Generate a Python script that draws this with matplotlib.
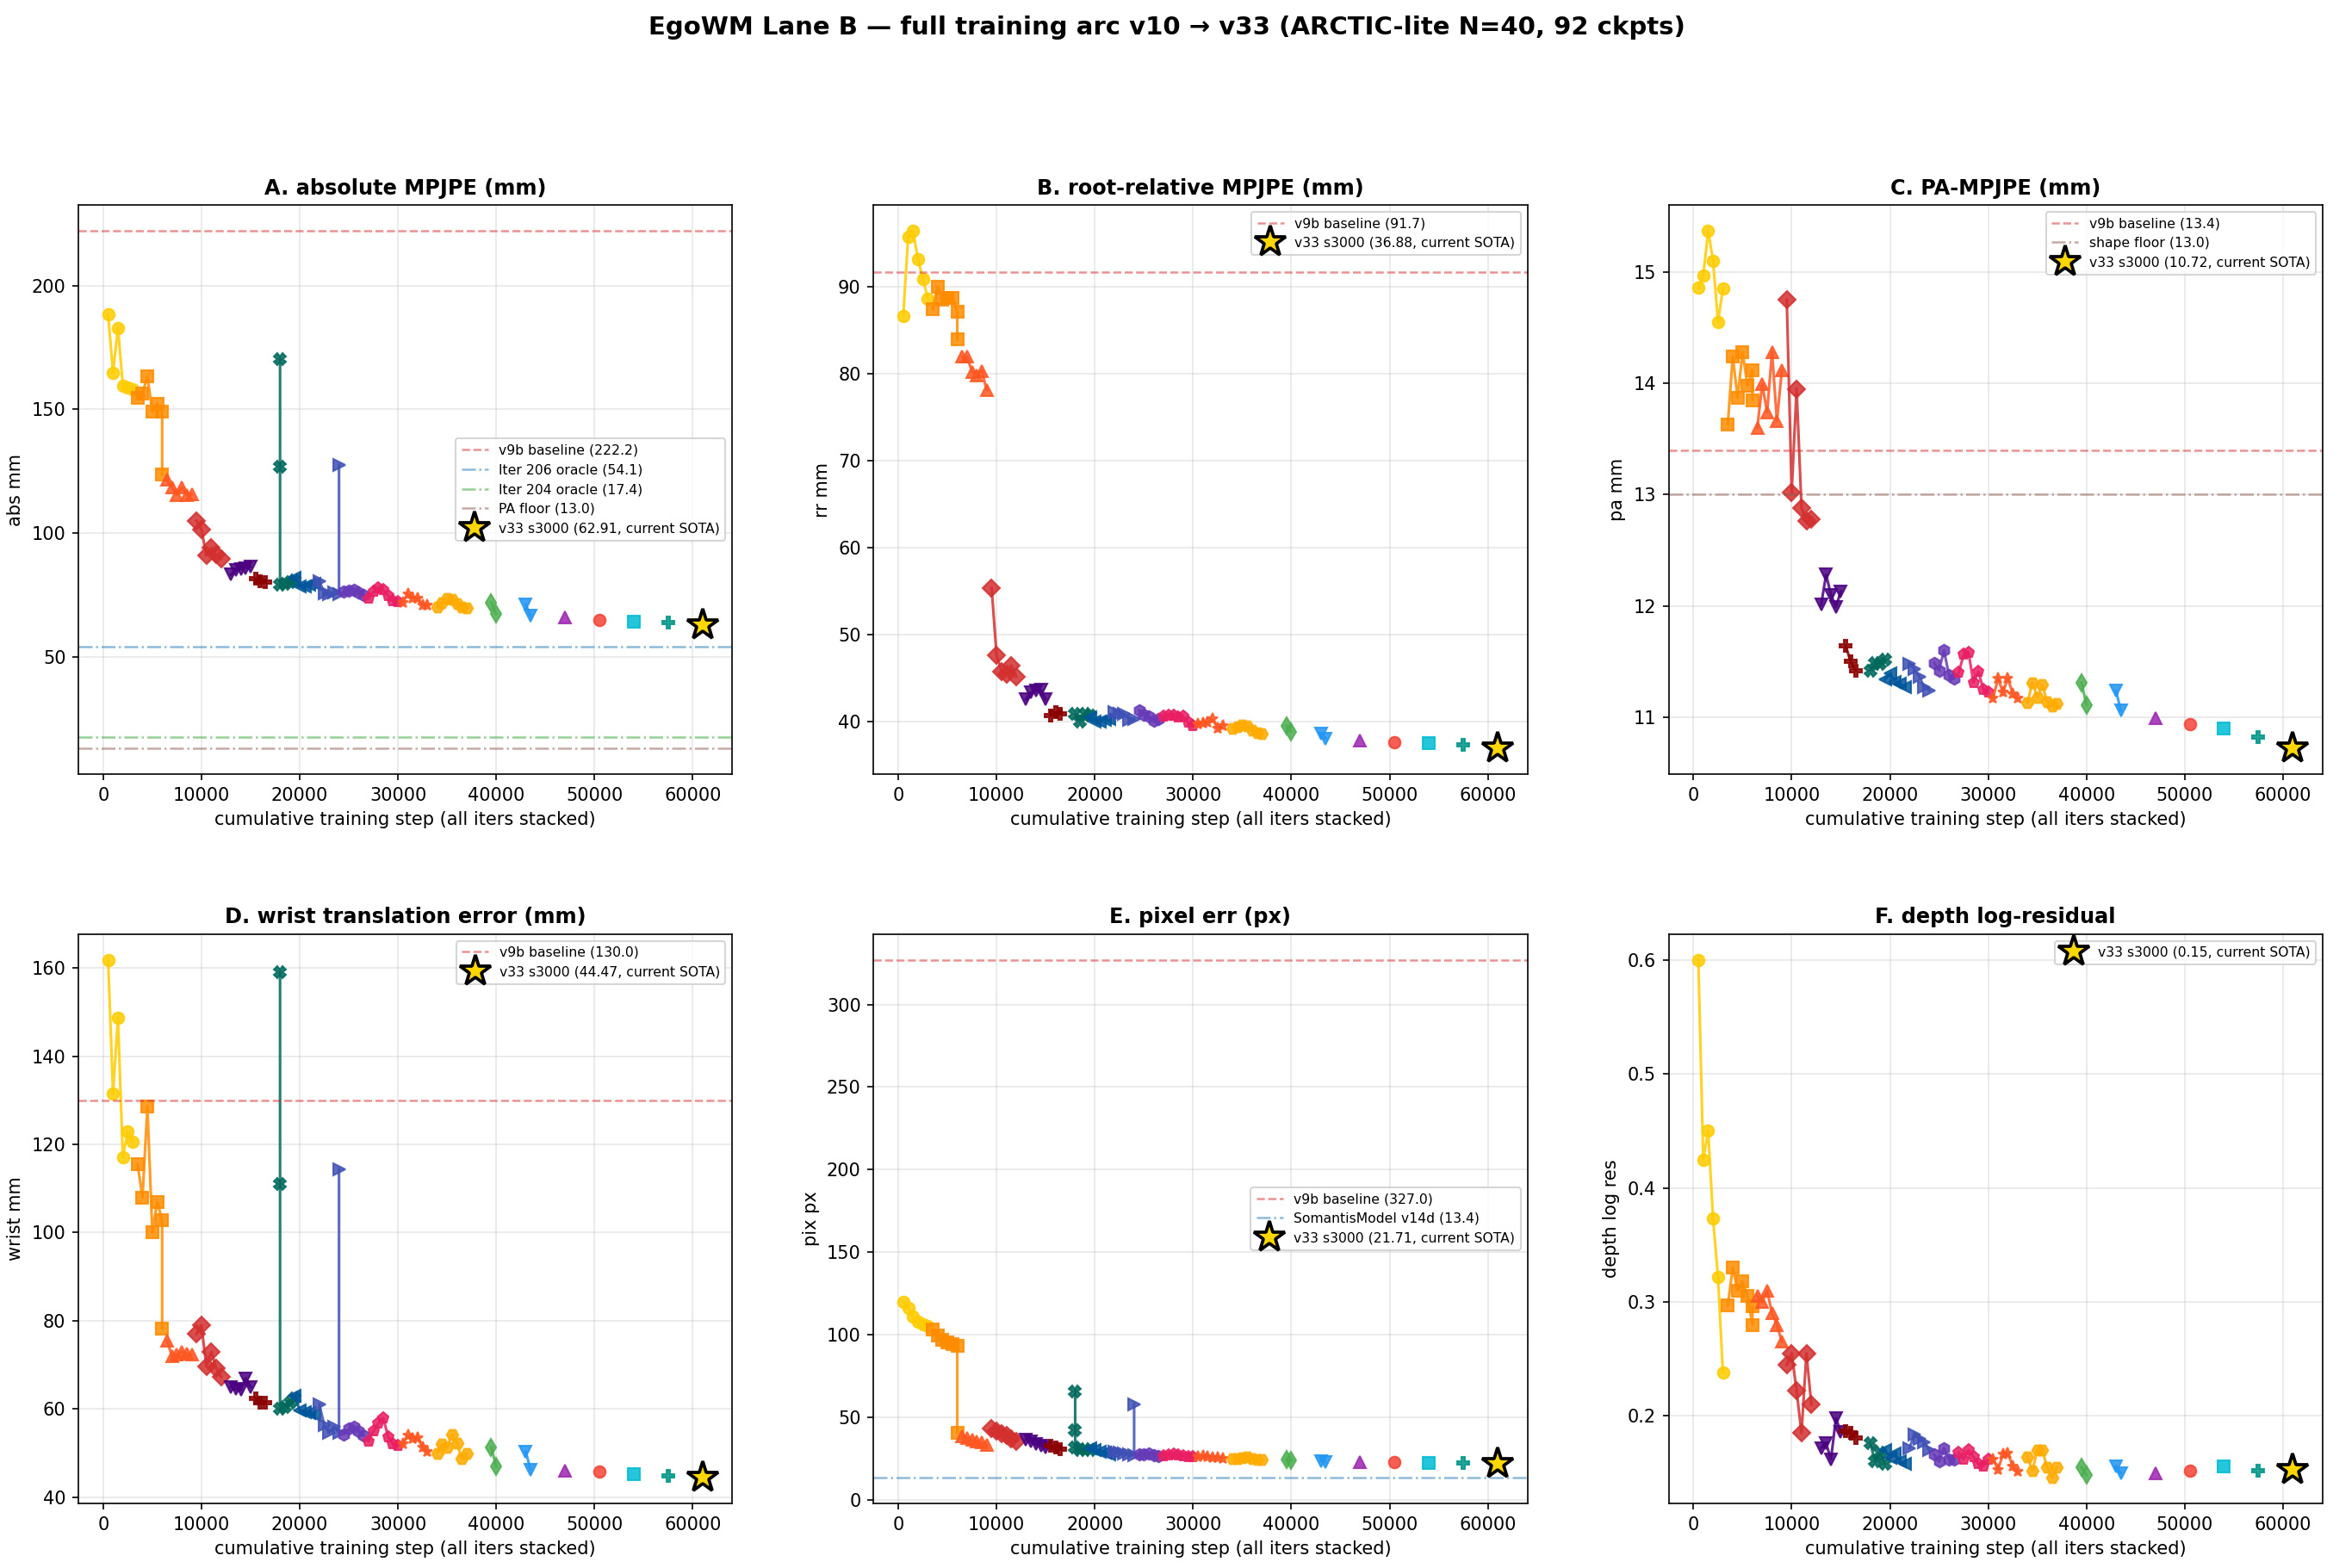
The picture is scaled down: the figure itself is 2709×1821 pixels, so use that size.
import matplotlib
matplotlib.use('Agg')
import matplotlib.pyplot as plt
import numpy as np

nan = np.nan

# cumulative step of every checkpoint, one list per training iteration
steps = [
    [500, 1000, 1500, 2000, 2500, 3000],
    [3500, 4000, 4500, 5000, 5500, 6000, 6000],
    [6500, 7000, 7500, 8000, 8500, 9000],
    [9500, 10000, 10500, 11000, 11500, 12000],
    [13000, 13500, 14000, 14500, 15000],
    [15500, 16000, 16500],
    [18000, 18000, 18000, 18500, 19000, 19500],
    [19500, 20000, 20500, 21000, 21500],
    [22000, 22500, 23000, 23500, 24000, 24000],
    [24500, 25000, 25500, 26000, 26500],
    [27000, 27500, 28000, 28500, 29000, 29500, 30000],
    [30500, 31000, 31500, 32000, 32500, 33000],
    [34000, 34500, 35000, 35500, 36000, 36500, 37000],
    [39500, 40000],
    [43000, 43500],
    [47000],
    [50500],
    [54000],
    [57500],
]

abs_mm = [
    [188.3, 164.9, 183.0, 159.7, 158.8, 158.2],
    [154.7, 156.6, 163.4, 149.1, 152.2, 149.1, 123.7],
    [121.5, 118.4, 115.5, 118.5, 115.4, 115.6],
    [105.0, 101.5, 91.0, 94.0, 91.2, 89.6],
    [83.2, 85.0, 85.5, 85.9, 86.3],
    [81.5, 80.6, 80.3],
    [170.4, 126.8, 79.0, 79.5, 80.3, 81.0],
    [82.0, 78.5, 78.3, 79.0, 79.5],
    [80.7, 75.6, 75.3, 75.9, 75.5, 127.5],
    [76.5, 76.8, 77.0, 76.0, 75.0],
    [73.5, 76.2, 77.8, 77.0, 74.8, 72.5, 72.2],
    [72.0, 75.4, 73.7, 73.7, 70.8, 70.8],
    [70.2, 72.0, 73.6, 73.1, 71.5, 70.2, 69.6],
    [71.9, 67.3],
    [71.2, 66.5],
    [65.9],
    [65.0],
    [64.3],
    [63.8],
]

rr_mm = [
    [86.6, 95.7, 96.4, 93.1, 90.9, 88.6],
    [87.4, 90.0, 88.5, 88.7, 88.7, 87.1, 83.9],
    [81.9, 81.9, 80.2, 79.8, 80.3, 78.1],
    [55.3, 47.6, 45.7, 45.4, 46.4, 45.1],
    [42.5, 43.3, 43.5, 43.6, 42.5],
    [40.65, 41.05, 40.85],
    [nan, nan, 40.8, 40.0, 40.8, 40.6],
    [40.5, 40.0, 39.96, 40.2, 40.3],
    [41.0, 40.8, 40.8, 40.2, 40.3, nan],
    [41.25, 40.77, 40.52, 40.04, 40.3],
    [40.52, 40.65, 40.65, 40.44, 40.52, 39.84, 39.43],
    [39.64, 39.76, 39.84, 40.24, 39.15, 39.5],
    [39.2, 39.4, 39.6, 39.5, 39.0, 38.7, 38.6],
    [39.5, 38.8],
    [38.6, 38.0],
    [37.8],
    [37.6],
    [37.5],
    [37.3],
]

pa_mm = [
    [14.86, 14.97, 15.37, 15.10, 14.55, 14.85],
    [13.63, 14.24, 13.87, 14.28, 13.98, 14.12, 13.85],
    [13.60, 13.99, 13.74, 14.28, 13.66, 14.12],
    [14.75, 13.02, 13.95, 12.88, 12.76, 12.78],
    [12.01, 12.28, 12.10, 11.99, 12.13],
    [11.64, 11.50, 11.42],
    [nan, nan, 11.42, 11.49, 11.48, 11.52],
    [11.34, 11.39, 11.32, 11.30, 11.27],
    [11.48, 11.43, 11.36, 11.27, 11.24, nan],
    [11.49, 11.42, 11.60, 11.38, 11.35],
    [11.40, 11.56, 11.58, 11.31, 11.41, 11.25, 11.22],
    [11.17, 11.35, 11.22, 11.35, 11.21, 11.17],
    [11.13, 11.31, 11.18, 11.29, 11.14, 11.10, 11.12],
    [11.31, 11.11],
    [11.24, 11.06],
    [10.99],
    [10.94],
    [10.90],
    [10.82],
]

wrist_mm = [
    [161.8, 131.5, 148.8, 117.0, 123.0, 120.5],
    [115.5, 108.0, 128.5, 100.0, 107.0, 102.8, 78.3],
    [75.5, 72.0, 72.3, 73.0, 72.5, 72.3],
    [77.0, 79.0, 69.7, 73.0, 69.3, 67.3],
    [65.0, 64.5, 64.3, 67.0, 65.0],
    [62.5, 61.5, 61.5],
    [159.0, 111.0, 60.0, 60.5, 61.5, 62.5],
    [63.0, 59.7, 59.3, 59.0, 58.7],
    [61.0, 56.3, 54.7, 56.0, 54.7, 114.3],
    [54.3, 55.5, 56.0, 55.0, 54.0],
    [52.7, 55.0, 56.7, 58.0, 53.7, 52.0, 51.7],
    [52.0, 54.0, 53.3, 53.5, 51.3, 50.3],
    [50.0, 52.0, 51.3, 54.3, 52.3, 48.7, 50.0],
    [51.3, 46.9],
    [50.3, 46.3],
    [46.0],
    [45.8],
    [45.3],
    [44.8],
]

pix_px = [
    [120.0, 116.0, 111.0, 108.0, 106.0, 105.0],
    [103.0, 99.5, 97.0, 95.5, 94.0, 93.0, 40.5],
    [38.5, 37.5, 36.5, 35.5, 34.5, 33.0],
    [43.0, 41.5, 40.0, 38.7, 37.0, 35.5],
    [36.5, 35.2, 33.5, 32.6, 31.5],
    [32.6, 31.7, 30.5],
    [65.7, 42.2, 31.5, 30.0, 30.5, 30.0],
    [30.9, 30.0, 29.0, 28.3, 27.5],
    [29.0, 28.3, 28.2, 27.4, 27.0, 57.8],
    [27.4, 27.4, 28.0, 27.0, 26.5],
    [26.5, 27.0, 27.2, 26.8, 26.5, 26.0, 25.8],
    [25.8, 26.2, 26.0, 25.5, 25.3, 25.0],
    [24.8, 25.0, 25.5, 26.0, 25.0, 24.5, 24.2],
    [24.3, 23.8],
    [23.5, 22.8],
    [22.8],
    [22.5],
    [22.3],
    [22.0],
]

depth_res = [
    [0.600, 0.425, 0.450, 0.373, 0.322, 0.238],
    [0.297, 0.330, 0.310, 0.318, 0.305, 0.280, 0.296],
    [0.305, 0.300, 0.310, 0.290, 0.280, 0.265],
    [0.245, 0.255, 0.222, 0.185, 0.255, 0.210],
    [0.172, 0.176, 0.162, 0.198, 0.186],
    [0.187, 0.185, 0.181],
    [nan, nan, 0.176, 0.160, 0.168, 0.158],
    [0.170, 0.163, 0.167, 0.160, 0.158],
    [0.172, 0.184, 0.180, 0.177, 0.170, nan],
    [0.166, 0.160, 0.172, 0.162, 0.162],
    [0.168, 0.162, 0.170, 0.164, 0.158, 0.156, 0.162],
    [0.162, 0.153, 0.166, 0.167, 0.156, 0.151],
    [0.164, 0.152, 0.170, 0.170, 0.155, 0.146, 0.155],
    [0.155, 0.148],
    [0.156, 0.150],
    [0.150],
    [0.152],
    [0.156],
    [0.152],
]

# current SOTA checkpoint (v33 s3000)
sota_step = 61000
sota_vals = [62.91, 36.88, 10.72, 44.47, 21.71, 0.153]

series_colors = ['#FFCC00', '#FF8C00', '#FF5722', '#D32F2F', '#4A0080', '#8B0000',
                 '#00695C', '#01579B', '#3F51B5', '#673AB7', '#E91E63', '#FF5722',
                 '#FFAB00', '#4CAF50', '#2196F3', '#9C27B0', '#F44336', '#00BCD4', '#009688']
series_markers = ['o', 's', '^', 'D', 'v', 'P', 'X', '<', '>', 'h', 'p', '*', 'H',
                  'd', 'v', '^', 'o', 's', 'P']

# reference lines per panel: (label, value, color, linestyle)
ref_abs = [('v9b baseline', 222.2, 'tab:red', '--'),
           ('Iter 206 oracle', 54.1, 'tab:blue', '-.'),
           ('Iter 204 oracle', 17.4, 'tab:green', '-.'),
           ('PA floor', 13.0, 'tab:brown', '-.')]
ref_rr = [('v9b baseline', 91.7, 'tab:red', '--')]
ref_pa = [('v9b baseline', 13.4, 'tab:red', '--'),
          ('shape floor', 13.0, 'tab:brown', '-.')]
ref_wrist = [('v9b baseline', 130.0, 'tab:red', '--')]
ref_pix = [('v9b baseline', 327.0, 'tab:red', '--'),
           ('SomantisModel v14d', 13.4, 'tab:blue', '-.')]
ref_depth = []

panels = [
    ('A. absolute MPJPE (mm)', 'abs mm', abs_mm, ref_abs, 'center right'),
    ('B. root-relative MPJPE (mm)', 'rr mm', rr_mm, ref_rr, 'upper right'),
    ('C. PA-MPJPE (mm)', 'pa mm', pa_mm, ref_pa, 'upper right'),
    ('D. wrist translation error (mm)', 'wrist mm', wrist_mm, ref_wrist, 'upper right'),
    ('E. pixel err (px)', 'pix px', pix_px, ref_pix, 'center right'),
    ('F. depth log-residual', 'depth log res', depth_res, ref_depth, 'upper right'),
]

fig, axes = plt.subplots(2, 3, figsize=(2709 / 150, 1821 / 150), dpi=150)
fig.subplots_adjust(left=0.0336, right=0.9955, bottom=0.0412, top=0.8693,
                    wspace=0.216, hspace=0.281)

for k, (title, ylab, vals, refs, loc) in enumerate(panels):
    ax = axes.flat[k]
    for i in range(len(steps)):
        ax.plot(steps[i], vals[i], marker=series_markers[i], color=series_colors[i],
                markersize=6.5, linewidth=1.5, alpha=0.85)
    for lab, v, c, ls in refs:
        ax.axhline(v, color=c, linestyle=ls, linewidth=1.2, alpha=0.5,
                   label=f'{lab} ({v:.1f})')
    ax.plot([sota_step], [sota_vals[k]], marker='*', color='#FFD700', markersize=18,
            markeredgecolor='black', markeredgewidth=1.8, linestyle='none',
            label=f'v33 s3000 ({sota_vals[k]:.2f}, current SOTA)', zorder=5)
    ax.set_title(title, fontsize=11.5, fontweight='bold')
    ax.set_xlabel('cumulative training step (all iters stacked)')
    ax.set_ylabel(ylab)
    ax.grid(True, alpha=0.3)
    ax.legend(loc=loc, fontsize=7.5)

fig.suptitle('EgoWM Lane B — full training arc v10 → v33 (ARCTIC-lite N=40, 92 ckpts)',
             fontsize=14, fontweight='bold', y=0.99)
fig.savefig('out.png', dpi=150)
